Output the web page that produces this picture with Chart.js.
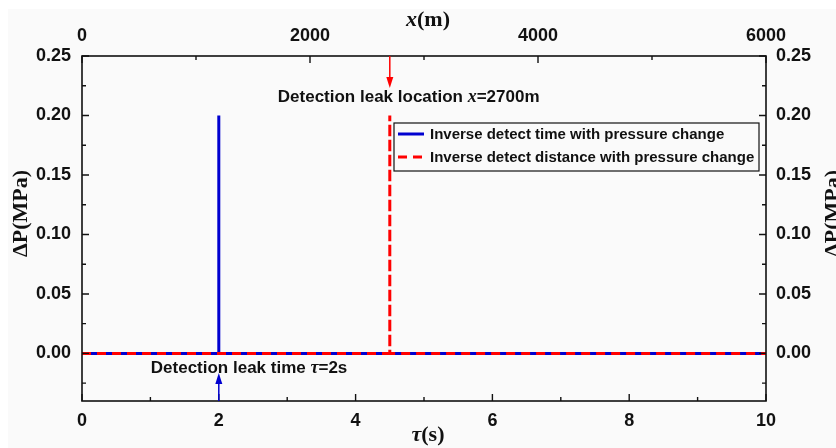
<!DOCTYPE html>
<html><head><meta charset="utf-8">
<script src="https://cdn.jsdelivr.net/npm/chart.js@4/dist/chart.umd.min.js"></script>
<style>html,body{margin:0;padding:0;background:#fff;} canvas{display:block;}</style>
</head><body>
<canvas id="c" width="836" height="448"></canvas>
<script>
// ---- data ----
const tauSeries = [0, 2, 2, 2, 10];            // τ (s), bottom axis
const pressureTime = [0, 0, 0.2, 0, 0];        // ΔP (MPa)
const xSeries = [0, 2700, 2700, 2700, 6000];   // x (m), top axis
const pressureDist = [0, 0, 0.2, 0, 0];        // ΔP (MPa)
const tauTicks = [0, 2, 4, 6, 8, 10];
const tauMinor = [1, 3, 5, 7, 9];
const xTicks = [0, 2000, 4000, 6000];
const xMinor = [1000, 3000, 5000];
const pTicks = [0, 0.05, 0.10, 0.15, 0.20, 0.25];
const pMinor = [-0.025, 0.025, 0.075, 0.125, 0.175, 0.225];
const leakTau = 2;
const leakX = 2700;
const seriesLabels = ['Inverse detect time with pressure change', 'Inverse detect distance with pressure change'];

const SANS = '"Liberation Sans", Arial, sans-serif';
const SERIF = '"Liberation Serif", "Times New Roman", serif';
const tickFont = {family: SANS, size: 18, weight: 'bold'};

function drawRich(ctx, parts, x, y, align) {
  let w = 0;
  parts.forEach(p => { ctx.font = p.f; p.w = ctx.measureText(p.t).width; w += p.w; });
  let cx = align === 'center' ? x - w / 2 : (align === 'right' ? x - w : x);
  ctx.textAlign = 'left';
  ctx.textBaseline = 'middle';
  parts.forEach(p => { ctx.font = p.f; ctx.fillText(p.t, cx, y); cx += p.w; });
}

function arrow(ctx, x, y0, y1, color) {
  const dir = y1 > y0 ? 1 : -1;
  ctx.save();
  ctx.strokeStyle = color; ctx.fillStyle = color; ctx.lineWidth = 1.5;
  ctx.beginPath(); ctx.moveTo(x, y0); ctx.lineTo(x, y1 - dir * 8); ctx.stroke();
  ctx.beginPath(); ctx.moveTo(x, y1); ctx.lineTo(x - 3.5, y1 - dir * 11); ctx.lineTo(x + 3.5, y1 - dir * 11); ctx.closePath(); ctx.fill();
  ctx.restore();
}

const bgPlugin = {
  id: 'bg',
  beforeDraw(chart) {
    const ctx = chart.ctx;
    ctx.save();
    ctx.fillStyle = '#ffffff'; ctx.fillRect(0, 0, chart.width, chart.height);
    ctx.fillStyle = '#fafafa'; ctx.fillRect(8, 9, chart.width - 8, chart.height - 9);
    ctx.restore();
  }
};

const decorPlugin = {
  id: 'decor',
  afterDraw(chart) {
    const ctx = chart.ctx;
    const a = chart.chartArea;
    const sx = chart.scales.x, sx2 = chart.scales.x2, sy = chart.scales.y;
    ctx.save();
    // frame
    ctx.strokeStyle = '#111'; ctx.lineWidth = 1.6;
    ctx.strokeRect(a.left, a.top, a.right - a.left, a.bottom - a.top);
    // ticks (inward)
    ctx.lineWidth = 1.4;
    const major = 7, minor = 4;
    ctx.beginPath();
    tauTicks.forEach(v => { const p = sx.getPixelForValue(v); ctx.moveTo(p, a.bottom); ctx.lineTo(p, a.bottom - major); });
    tauMinor.forEach(v => { const p = sx.getPixelForValue(v); ctx.moveTo(p, a.bottom); ctx.lineTo(p, a.bottom - minor); });
    xTicks.forEach(v => { const p = sx2.getPixelForValue(v); ctx.moveTo(p, a.top); ctx.lineTo(p, a.top + major); });
    xMinor.forEach(v => { const p = sx2.getPixelForValue(v); ctx.moveTo(p, a.top); ctx.lineTo(p, a.top + minor); });
    pTicks.forEach(v => { const p = sy.getPixelForValue(v); ctx.moveTo(a.left, p); ctx.lineTo(a.left + major, p); ctx.moveTo(a.right, p); ctx.lineTo(a.right - major, p); });
    pMinor.forEach(v => { const p = sy.getPixelForValue(v); ctx.moveTo(a.left, p); ctx.lineTo(a.left + minor, p); ctx.moveTo(a.right, p); ctx.lineTo(a.right - minor, p); });
    ctx.stroke();

    ctx.fillStyle = '#111';
    // axis titles
    drawRich(ctx, [{t: 'x', f: 'italic bold 22px ' + SERIF}, {t: '(m)', f: 'bold 22px ' + SERIF}], (a.left + a.right) / 2 + 4, 20, 'center');
    drawRich(ctx, [{t: 'τ', f: 'italic bold 22px ' + SERIF}, {t: '(s)', f: 'bold 22px ' + SERIF}], (a.left + a.right) / 2 + 4, 435, 'center');
    const midY = (a.top + a.bottom) / 2 - 15;
    ctx.save(); ctx.translate(21, midY); ctx.rotate(-Math.PI / 2);
    drawRich(ctx, [{t: 'ΔP(MPa)', f: 'bold 22px ' + SERIF}], 0, 0, 'center'); ctx.restore();
    ctx.save(); ctx.translate(833, midY); ctx.rotate(-Math.PI / 2);
    drawRich(ctx, [{t: 'ΔP(MPa)', f: 'bold 22px ' + SERIF}], 0, 0, 'center'); ctx.restore();

    // annotations
    const lx = sx2.getPixelForValue(leakX);
    arrow(ctx, lx, a.top, a.top + 32, '#ff0000');
    ctx.fillStyle = '#111';
    drawRich(ctx, [
      {t: 'Detection leak location ', f: 'bold 17px ' + SANS},
      {t: 'x', f: 'italic bold 18px ' + SERIF},
      {t: '=' + leakX + 'm', f: 'bold 17px ' + SANS}
    ], lx - 112, 97, 'left');
    const tx = sx.getPixelForValue(leakTau);
    arrow(ctx, tx, a.bottom, a.bottom - 28, '#0000d0');
    ctx.fillStyle = '#111';
    drawRich(ctx, [
      {t: 'Detection leak time ', f: 'bold 17px ' + SANS},
      {t: 'τ', f: 'italic bold 18px ' + SERIF},
      {t: '=' + leakTau + 's', f: 'bold 17px ' + SANS}
    ], tx - 68, 368, 'left');

    // legend
    const lgL = 394, lgT = 123, lgR = 759, lgB = 171;
    ctx.fillStyle = '#fafafa';
    ctx.fillRect(lgL, lgT, lgR - lgL, lgB - lgT);
    ctx.strokeStyle = '#111'; ctx.lineWidth = 1.2;
    ctx.strokeRect(lgL, lgT, lgR - lgL, lgB - lgT);
    const ds = chart.data.datasets;
    [0, 1].forEach(i => {
      const y = 134 + i * 23;
      ctx.save();
      ctx.strokeStyle = ds[i].borderColor; ctx.lineWidth = 3;
      ctx.setLineDash(ds[i].borderDash || []);
      ctx.beginPath(); ctx.moveTo(398, y); ctx.lineTo(424, y); ctx.stroke();
      ctx.restore();
      ctx.fillStyle = '#111';
      drawRich(ctx, [{t: ds[i].label, f: 'bold 15px ' + SANS}], 430, y + 1, 'left');
    });
    ctx.restore();
  }
};

function setTicks(list) { return scale => { scale.ticks = list.map(v => ({value: v})); }; }

new Chart(document.getElementById('c'), {
  type: 'scatter',
  data: {
    datasets: [
      {
        label: seriesLabels[0],
        data: tauSeries.map((t, i) => ({x: t, y: pressureTime[i]})),
        xAxisID: 'x', yAxisID: 'y',
        showLine: true, borderColor: '#0000d0', borderWidth: 3, pointRadius: 0,
        order: 1
      },
      {
        label: seriesLabels[1],
        data: xSeries.map((t, i) => ({x: t, y: pressureDist[i]})),
        xAxisID: 'x2', yAxisID: 'y',
        showLine: true, borderColor: '#ff0000', borderWidth: 3, borderDash: [9, 6], pointRadius: 0,
        order: 0
      }
    ]
  },
  options: {
    responsive: false, animation: false, devicePixelRatio: 1,
    layout: {padding: 0},
    plugins: {legend: {display: false}, tooltip: {enabled: false}},
    scales: {
      x: {
        type: 'linear', position: 'bottom', min: 0, max: 10,
        afterBuildTicks: setTicks(tauTicks),
        afterFit: s => { s.height = 47; },
        grid: {display: false, drawTicks: false}, border: {display: false},
        ticks: {font: tickFont, color: '#111', padding: 9, maxRotation: 0, callback: v => String(v)}
      },
      x2: {
        type: 'linear', position: 'top', min: 0, max: 6000,
        afterBuildTicks: setTicks(xTicks),
        afterFit: s => { s.height = 56; },
        grid: {display: false, drawTicks: false}, border: {display: false},
        ticks: {font: tickFont, color: '#111', padding: 9, maxRotation: 0, callback: v => String(v)}
      },
      y: {
        type: 'linear', position: 'left', min: -0.04, max: 0.25,
        afterBuildTicks: setTicks(pTicks),
        afterFit: s => { s.width = 82; },
        grid: {display: false, drawTicks: false}, border: {display: false},
        ticks: {font: tickFont, color: '#111', padding: 11, callback: v => Number(v).toFixed(2)}
      },
      y2: {
        type: 'linear', position: 'right', min: -0.04, max: 0.25,
        afterBuildTicks: setTicks(pTicks),
        afterFit: s => { s.width = 70; },
        grid: {display: false, drawTicks: false}, border: {display: false},
        ticks: {font: tickFont, color: '#111', padding: 10, callback: v => Number(v).toFixed(2)}
      }
    }
  },
  plugins: [bgPlugin, decorPlugin]
});
</script>
</body></html>
